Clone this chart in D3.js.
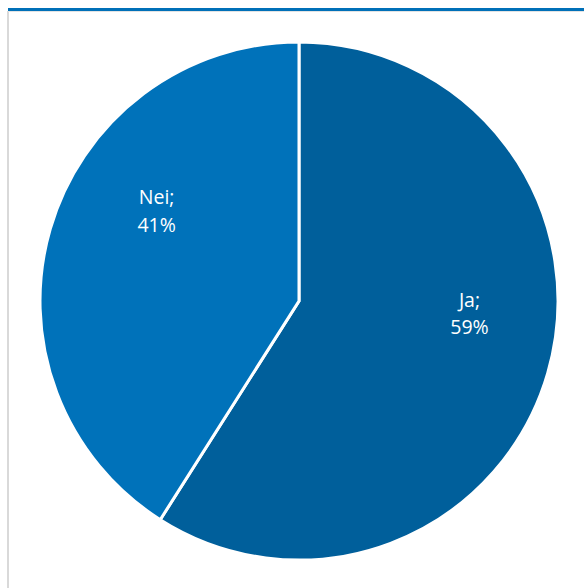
<!DOCTYPE html>
<html><head><meta charset="utf-8">
<script src="https://cdn.jsdelivr.net/npm/d3@7"></script>
<style>html,body{margin:0;padding:0;background:#fff;}svg{display:block;}</style>
</head><body>
<svg id="c" width="584" height="588"></svg>
<script>
const categories = ["Ja", "Nei"];
const values = [59, 41];
const colors = ["#005F9B", "#0072BA"];

const svg = d3.select("#c");
const W = 584, H = 588;
const cx = 299, cy = 301, r = 259;

// frame
svg.append("rect").attr("x", 7).attr("y", 11).attr("width", 2).attr("height", H - 11).attr("fill", "#d9d9d9");
svg.append("rect").attr("x", 8).attr("y", 11).attr("width", W - 8).attr("height", 1).attr("fill", "#e3e3e3");
svg.append("rect").attr("x", 8).attr("y", 8).attr("width", W - 8).attr("height", 3).attr("fill", "#0070B8");

const pie = d3.pie().sort(null).value(d => d.v);
const arcs = pie(categories.map((c, i) => ({c, v: values[i], col: colors[i]})));
const arc = d3.arc().innerRadius(0).outerRadius(r);

const g = svg.append("g").attr("transform", `translate(${cx},${cy})`);
g.selectAll("path").data(arcs).enter().append("path")
  .attr("d", arc).attr("fill", d => d.data.col)
  .attr("stroke", "#fff").attr("stroke-width", 3).attr("stroke-linejoin", "miter");

// label placement (Excel-like best fit)
const labelAngleShift = [-0.21, 0.28];
const labelRadius = [0.66, 0.65];
arcs.forEach((d, i) => {
  const a = (d.startAngle + d.endAngle) / 2 + labelAngleShift[i];
  const rr = r * labelRadius[i];
  const x = Math.sin(a) * rr, y = -Math.cos(a) * rr;
  const t = g.append("text").attr("x", x).attr("y", y)
    .attr("text-anchor", "middle").attr("fill", "#fff")
    .style("font-family", "'Century Gothic', 'Open Sans', sans-serif").style("font-size", "19.5px");
  t.append("tspan").attr("x", x).attr("dy", "-0.35em").text(d.data.c + ";");
  t.append("tspan").attr("x", x).attr("dy", "1.42em").text(d.data.v + "%");
});
</script>
</body></html>
